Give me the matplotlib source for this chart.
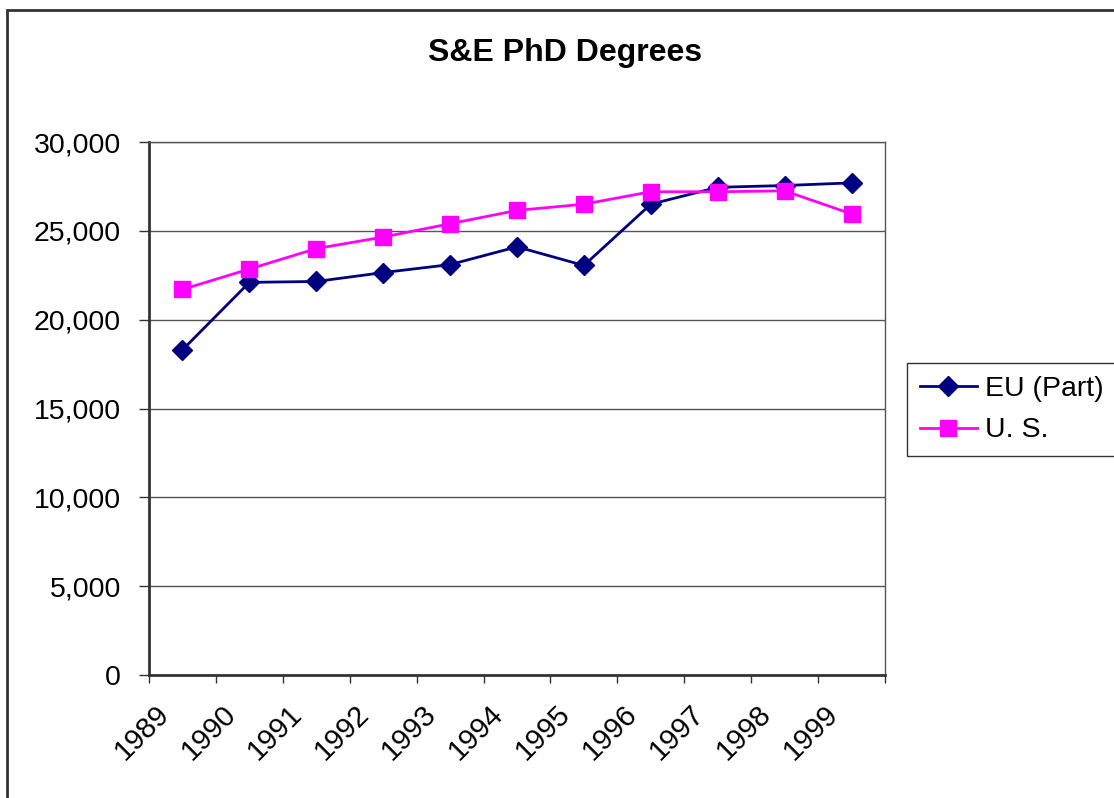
import matplotlib.pyplot as plt
from matplotlib.patches import Rectangle
from matplotlib.transforms import ScaledTranslation

plt.rcParams['font.family'] = ['Liberation Sans', 'DejaVu Sans']

years = ['1989', '1990', '1991', '1992', '1993', '1994', '1995', '1996', '1997', '1998', '1999']
eu_part = [18300, 22100, 22150, 22650, 23100, 24100, 23050, 26500, 27450, 27550, 27700]
us = [21700, 22850, 24000, 24650, 25400, 26150, 26500, 27200, 27200, 27250, 25950]

W, H = 1114, 798
fig = plt.figure(figsize=(W / 100, H / 100), dpi=100)

# chart border (only left and top visible in the crop)
fig.add_artist(Rectangle((7 / W, -0.1), 1.2, 1.1 - 10 / H, transform=fig.transFigure,
                         fill=False, edgecolor='#333333', lw=2))

ax = fig.add_axes([149 / W, 1 - 675 / H, (885 - 149) / W, (675 - 142) / H])

x = list(range(len(years)))
ax.plot(x, eu_part, color='#000080', lw=2, marker='D', markersize=10,
        markerfacecolor='#000080', markeredgecolor='#000080', label='EU (Part)')
ax.plot(x, us, color='#FF00FF', lw=2, marker='s', markersize=12,
        markerfacecolor='#FF00FF', markeredgecolor='#FF00FF', label='U. S.')

ax.set_xlim(-0.5, len(years) - 0.5)
ax.set_ylim(0, 30000)
ax.set_yticks(range(0, 30001, 5000))
ax.set_yticklabels(['0', '5,000', '10,000', '15,000', '20,000', '25,000', '30,000'])
ax.yaxis.grid(True, color='#555555', lw=1)
ax.set_axisbelow(True)

ax.set_xticks(x)
ax.set_xticklabels(years, rotation=45, ha='right', va='top', rotation_mode='anchor')
ax.set_xticks([i - 0.5 for i in range(len(years) + 1)], minor=True)
ax.tick_params(axis='x', which='major', length=0, pad=18, labelsize=21)
ax.tick_params(axis='x', which='minor', length=6, width=1, color='#333333')
ax.tick_params(axis='y', length=7, width=1, color='#333333', labelsize=20.5, pad=13)
for lab in ax.get_xticklabels():
    lab.set_transform(lab.get_transform() + ScaledTranslation(-28 / 100, 0, fig.dpi_scale_trans))

for s in ax.spines.values():
    s.set_color('#555555')
    s.set_linewidth(1)
ax.spines['left'].set_color('#333333')
ax.spines['left'].set_linewidth(2)
ax.spines['bottom'].set_color('#333333')
ax.spines['bottom'].set_linewidth(2)

fig.text(565 / W, 1 - 53 / H, 'S&E PhD Degrees', ha='center', va='center',
         fontsize=23, fontweight='bold')

leg = fig.legend(loc='upper left', bbox_to_anchor=(907 / W, 1 - 363 / H),
                 fontsize=20.5, frameon=True, fancybox=False, edgecolor='black',
                 handlelength=2.0, handletextpad=0.3, labelspacing=0.55,
                 borderpad=0.45, borderaxespad=0)
leg.get_frame().set_linewidth(1)

fig.savefig('out.png', dpi=100)
